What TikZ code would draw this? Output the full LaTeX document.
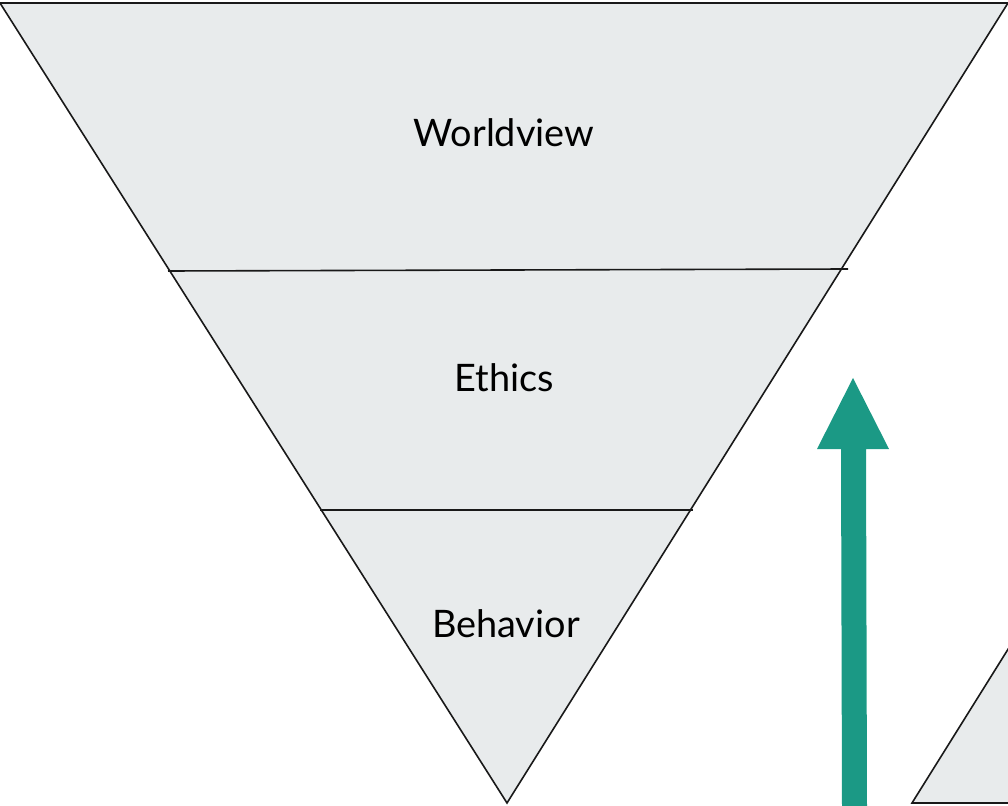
\documentclass[tikz,border=0pt]{standalone}
\usepackage{fontspec}
\setmainfont{Lato}
\usepackage{tikz}
\usetikzlibrary{shapes,arrows}

\definecolor{layerfill}{RGB}{232,235,236}
\definecolor{arrowteal}{RGB}{27,153,133}

\begin{document}
\begin{tikzpicture}[x=0.75pt, y=-0.75pt,
    layer/.style={fill=layerfill, draw=black!90, line width=1.2pt, line join=miter},
    label/.style={font=\fontsize{28.4}{34}\selectfont, text=black}]
\clip (0,0) rectangle (1008,806);
\useasboundingbox (0,0) rectangle (1008,806);
% inverted pyramid
\draw [layer] (0,3) -- (1008,3) -- (507,803) -- cycle;
\draw [black!90, line width=1.2pt] (168,271) -- (848,269);
\draw [black!90, line width=1.2pt] (320,510) -- (693,510);
% second pyramid, cut off by the border
\draw [layer] (912,803) -- (1060,566) -- (1208,803) -- cycle;
% upward arrow
\fill [arrowteal] (842,806) -- (841,449) -- (817,449) -- (853,378) -- (889,449) -- (866,449) -- (867,806) -- cycle;
\node[label] (worldview) at (504,133) {Worldview};
\node[label] (ethics) at (504,378) {Ethics};
\node[label] (behavior) at (506,624) {Behavior};
\end{tikzpicture}
\end{document}
